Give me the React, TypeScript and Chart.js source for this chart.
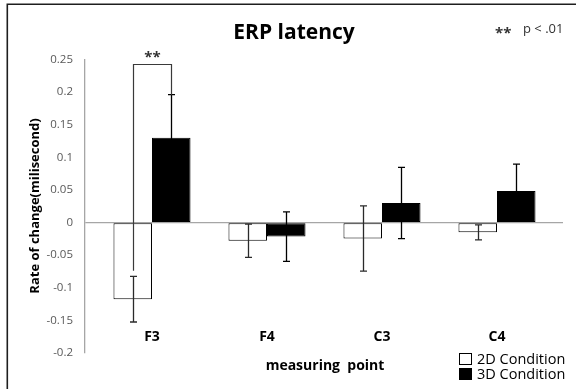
import React, { useEffect, useRef } from "react";
import { Chart, registerables } from "chart.js";

Chart.register(...registerables);

const categories = ["F3", "F4", "C3", "C4"];
const seriesLabels = ["2D Condition", "3D Condition"];
const values2D = [-0.1175, -0.028, -0.0245, -0.015];
const values3D = [0.13, -0.0215, 0.03, 0.0485];
const errors2D = [0.035, 0.0255, 0.05, 0.0115];
const errors3D = [0.066, 0.038, 0.0545, 0.041];
const yMin = -0.2;
const yMax = 0.25;
const yStep = 0.05;
// significance bracket between 2D and 3D at F3
const sigCategory = 0;
const sigTop = 0.243;
const sigLeftEnd = -0.074;
const sigRightEnd = 0.196;
const sigLabel = "**";
const titleText = "ERP latency";
const noteStars = "**";
const noteText = "p < .01";
const yTitle = "Rate of change(milisecond)";
const xTitle = "measuring  point";

const FONT = "'Open Sans', 'Noto Sans', sans-serif";

const overlayPlugin = {
  id: "overlay",
  beforeDraw(chart: any) {
    const ctx = chart.ctx;
    ctx.save();
    ctx.fillStyle = "#ffffff";
    ctx.fillRect(0, 0, chart.width, chart.height);
    ctx.strokeStyle = "#1e1e1e";
    ctx.lineWidth = 1.6;
    ctx.beginPath();
    ctx.moveTo(7.3, chart.height);
    ctx.lineTo(7.3, 4.3);
    ctx.lineTo(chart.width, 4.3);
    ctx.stroke();
    ctx.restore();
  },
  afterDatasetsDraw(chart: any) {
    const ctx = chart.ctx;
    const y = chart.scales.y;
    const x = chart.scales.x;
    const errs = [errors2D, errors3D];
    const errColors = ["#2a2a2a", "#000000"];
    ctx.save();
    // error bars
    ctx.lineWidth = 1.3;
    chart.data.datasets.forEach((ds: any, di: number) => {
      const meta = chart.getDatasetMeta(di);
      ctx.strokeStyle = errColors[di];
      meta.data.forEach((bar: any, i: number) => {
        const v = ds.data[i].y;
        const e = errs[di][i];
        const cx = Math.round(bar.x) + 0.5;
        const yt = y.getPixelForValue(v + e);
        const yb = y.getPixelForValue(v - e);
        ctx.beginPath();
        ctx.moveTo(cx, yt);
        ctx.lineTo(cx, yb);
        ctx.moveTo(cx - 3.5, yt);
        ctx.lineTo(cx + 3.5, yt);
        ctx.moveTo(cx - 3.5, yb);
        ctx.lineTo(cx + 3.5, yb);
        ctx.stroke();
      });
    });
    // significance bracket
    const b0 = chart.getDatasetMeta(0).data[sigCategory];
    const b1 = chart.getDatasetMeta(1).data[sigCategory];
    const lx = Math.round(b0.x) + 0.5;
    const rx = Math.round(b1.x) + 0.5;
    const ty = Math.round(y.getPixelForValue(sigTop)) + 0.5;
    ctx.strokeStyle = "#3a3a3a";
    ctx.lineWidth = 1.2;
    ctx.beginPath();
    ctx.moveTo(lx, y.getPixelForValue(sigLeftEnd));
    ctx.lineTo(lx, ty);
    ctx.lineTo(rx, ty);
    ctx.lineTo(rx, y.getPixelForValue(sigRightEnd));
    ctx.stroke();
    ctx.fillStyle = "#333";
    ctx.font = `bold 15px ${FONT}`;
    ctx.textAlign = "center";
    ctx.textBaseline = "alphabetic";
    ctx.fillText(sigLabel, (lx + rx) / 2, ty - 3);

    // title
    ctx.fillStyle = "#000";
    ctx.font = `bold 21px ${FONT}`;
    ctx.textAlign = "center";
    ctx.fillText(titleText, 294, 39);

    // note
    ctx.font = `bold 15px ${FONT}`;
    ctx.textAlign = "left";
    ctx.fillStyle = "#333";
    ctx.fillText(noteStars, 495, 38);
    ctx.font = `13px ${FONT}`;
    ctx.fillText(noteText, 523, 33);

    // category labels
    ctx.fillStyle = "#000";
    ctx.font = `bold 14px ${FONT}`;
    ctx.textAlign = "center";
    categories.forEach((c, i) => {
      ctx.fillText(c, x.getPixelForValue(i), 341);
    });

    // x title
    ctx.font = `bold 14px ${FONT}`;
    ctx.fillText(xTitle, 325, 370);

    // y title
    ctx.save();
    ctx.translate(35, 206);
    ctx.rotate(-Math.PI / 2);
    ctx.font = `bold 13px ${FONT}`;
    ctx.textBaseline = "middle";
    ctx.fillText(yTitle, 0, 0);
    ctx.restore();

    // legend
    ctx.font = `14.5px ${FONT}`;
    ctx.textAlign = "left";
    ctx.textBaseline = "middle";
    chart.data.datasets.forEach((ds: any, di: number) => {
      const by = 353 + di * 15;
      ctx.fillStyle = ds.backgroundColor;
      ctx.fillRect(459, by, 12, 11);
      ctx.strokeStyle = "#000";
      ctx.lineWidth = 1;
      ctx.strokeRect(459.5, by + 0.5, 12, 11);
      ctx.fillStyle = "#000";
      ctx.fillText(ds.label, 477, by + 6.5);
    });
    ctx.restore();
  },
};

export default function App() {
  const ref = useRef<HTMLCanvasElement | null>(null);
  useEffect(() => {
    if (!ref.current) return;
    const chart = new Chart(ref.current, {
      type: "bar",
      data: {
        datasets: [
          {
            label: seriesLabels[0],
            data: values2D.map((v, i) => ({ x: i, y: v })),
            backgroundColor: "#ffffff",
            borderColor: "#000000",
            borderWidth: 1,
            borderSkipped: false,
          },
          {
            label: seriesLabels[1],
            data: values3D.map((v, i) => ({ x: i, y: v })),
            backgroundColor: "#000000",
            borderColor: "#000000",
            borderWidth: 1,
            borderSkipped: false,
          },
        ],
      } as any,
      options: {
        animation: false,
        responsive: true,
        maintainAspectRatio: false,
        events: [],
        categoryPercentage: 0.67,
        barPercentage: 1.0,
        layout: { padding: { left: 0, right: 13, top: 59.5, bottom: 36 } },
        plugins: { legend: { display: false }, title: { display: false }, tooltip: { enabled: false } },
        scales: {
          x: {
            type: "linear",
            display: false,
            offset: false,
            grid: { offset: false },
            min: -0.5826,
            max: 3.574,
            afterBuildTicks: (s: any) => {
              s.ticks = categories.map((_, i) => ({ value: i }));
            },
          },
          y: {
            min: yMin,
            max: yMax,
            afterFit: (s: any) => {
              s.width = 85;
            },
            ticks: {
              stepSize: yStep,
              padding: 12,
              color: "#595959",
              font: { family: FONT, size: 11.5 },
              callback: (v: any) => String(Number(Number(v).toFixed(2))),
            },
            grid: {
              drawTicks: false,
              color: (c: any) => (c.tick && Math.abs(c.tick.value) < 1e-9 ? "#a6a6a6" : "rgba(0,0,0,0)"),
              lineWidth: 1.3,
            },
            border: { display: true, color: "#a6a6a6", width: 1.3 },
          },
        },
      } as any,
      plugins: [overlayPlugin],
    });
    return () => chart.destroy();
  }, []);
  return (
    <div style={{ position: "fixed", left: 0, top: 0, width: 576, height: 389 }}>
      <canvas ref={ref} />
    </div>
  );
}
